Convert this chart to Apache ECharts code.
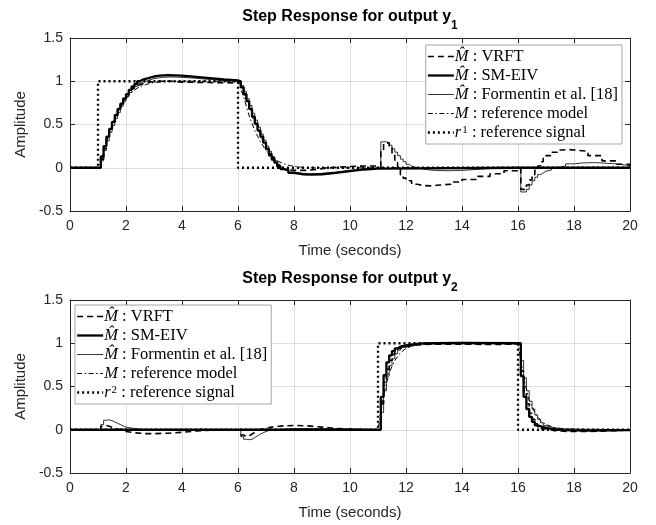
<!DOCTYPE html>
<html><head><meta charset="utf-8">
<script src="https://cdn.jsdelivr.net/npm/echarts@6/dist/echarts.min.js"></script>
<style>html,body{margin:0;padding:0;background:#fff}#c{width:656px;height:525px}</style>
</head><body><div id="c"></div><script>
// ---------- data (time [s], amplitude) ----------
const xTicks = [0, 2, 4, 6, 8, 10, 12, 14, 16, 18, 20];
const yTicks = [-0.5, 0, 0.5, 1, 1.5];
const legendNames1 = ['VRFT', 'SM-EIV', 'Formentin', 'RefModel', 'r1'];
const legendNames2 = ['VRFT', 'SM-EIV', 'Formentin', 'RefModel', 'r2'];

// output y1
const y1_vrft = [[0,0],[1.0,0],[1.1,0.1],[1.2,0.22],[1.3,0.33],[1.4,0.43],[1.5,0.52],[1.6,0.6],[1.7,0.67],[1.8,0.74],[1.9,0.8],[2.0,0.85],[2.1,0.89],[2.2,0.92],[2.3,0.95],[2.4,0.97],[2.6,0.99],[2.8,1.0],[3.2,1.0],[3.6,0.99],[4.0,0.985],[5.0,0.98],[6.0,0.985],
 [6.1,0.93],[6.2,0.85],[6.3,0.76],[6.4,0.67],[6.5,0.58],[6.6,0.5],[6.7,0.42],[6.8,0.34],[6.9,0.27],[7.0,0.2],[7.1,0.14],[7.2,0.09],[7.3,0.05],[7.4,0.01],[7.5,-0.02],[7.7,-0.03],[8.0,-0.03],[8.5,-0.01],[9.0,0.005],[9.5,0.015],[10.0,0.02],[10.5,0.02],[11.0,0.015],
 [11.1,0.2],[11.2,0.28],[11.3,0.29],[11.4,0.24],[11.5,0.15],[11.6,0.06],[11.7,-0.02],[11.8,-0.08],[11.9,-0.12],[12.0,-0.15],[12.2,-0.19],[12.4,-0.205],[12.6,-0.21],[12.9,-0.2],[13.2,-0.19],[13.6,-0.165],[14.0,-0.135],[14.5,-0.1],[15.0,-0.07],[15.5,-0.035],[16.0,-0.01],
 [16.1,-0.25],[16.2,-0.25],[16.3,-0.2],[16.4,-0.14],[16.5,-0.08],[16.6,-0.03],[16.7,0.02],[16.8,0.07],[16.9,0.11],[17.0,0.14],[17.2,0.18],[17.4,0.205],[17.6,0.21],[17.8,0.205],[18.0,0.19],[18.5,0.14],[19.0,0.08],[19.5,0.04],[20.0,0.015]];
const y1_smeiv = [[0,0],[1.0,0],[1.1,0.13],[1.2,0.25],[1.3,0.36],[1.4,0.45],[1.5,0.53],[1.6,0.61],[1.7,0.68],[1.8,0.74],[1.9,0.8],[2.0,0.85],[2.1,0.9],[2.2,0.94],[2.3,0.97],[2.4,1.0],[2.5,1.02],[2.6,1.035],[2.8,1.055],[3.0,1.065],[3.2,1.07],[3.5,1.065],[4.0,1.05],[4.5,1.035],[5.0,1.02],[5.5,1.01],[6.0,1.0],
 [6.1,0.93],[6.2,0.85],[6.3,0.77],[6.4,0.68],[6.5,0.59],[6.6,0.51],[6.7,0.43],[6.8,0.36],[6.9,0.29],[7.0,0.22],[7.1,0.16],[7.2,0.11],[7.3,0.06],[7.4,0.02],[7.5,-0.01],[7.6,-0.03],[7.8,-0.06],[8.0,-0.075],[8.3,-0.08],[8.6,-0.075],[9.0,-0.06],[9.5,-0.04],[10.0,-0.02],[10.5,-0.01],[11.0,0],[16.0,0],[20.0,0]];
const y1_form = [[0,0],[1.0,0],[1.1,0.08],[1.2,0.2],[1.3,0.31],[1.4,0.41],[1.5,0.49],[1.6,0.57],[1.7,0.64],[1.8,0.71],[1.9,0.77],[2.0,0.82],[2.1,0.87],[2.2,0.91],[2.3,0.94],[2.4,0.97],[2.5,0.99],[2.6,1.01],[2.8,1.03],[3.0,1.045],[3.3,1.05],[3.6,1.045],[4.0,1.035],[4.5,1.02],[5.0,1.01],[5.5,1.0],[6.0,1.0],
 [6.1,0.95],[6.2,0.88],[6.3,0.8],[6.4,0.72],[6.5,0.63],[6.6,0.55],[6.7,0.47],[6.8,0.39],[6.9,0.32],[7.0,0.25],[7.1,0.19],[7.2,0.13],[7.3,0.08],[7.4,0.04],[7.5,0.01],[7.6,-0.02],[7.8,-0.05],[8.0,-0.065],[8.3,-0.07],[8.6,-0.065],[9.0,-0.05],[9.5,-0.03],[10.0,-0.015],[10.5,-0.005],[11.0,0],
 [11.1,0.3],[11.2,0.3],[11.3,0.29],[11.4,0.26],[11.5,0.22],[11.6,0.18],[11.7,0.14],[11.8,0.1],[11.9,0.07],[12.0,0.04],[12.1,0.02],[12.2,0.0],[12.4,-0.02],[12.7,-0.03],[13.0,-0.035],[13.5,-0.03],[14.0,-0.02],[14.5,-0.01],[15.0,-0.005],[16.0,0],
 [16.1,-0.28],[16.2,-0.28],[16.3,-0.25],[16.4,-0.2],[16.5,-0.15],[16.6,-0.11],[16.7,-0.08],[16.8,-0.06],[16.9,-0.04],[17.0,-0.025],[17.2,0.0],[17.4,0.02],[17.7,0.045],[18.0,0.055],[18.3,0.06],[18.7,0.055],[19.0,0.045],[19.5,0.025],[20.0,0.01]];
const y1_model = [[0,0],[1.0,0],[1.2,0.18],[1.4,0.4],[1.6,0.57],[1.8,0.7],[2.0,0.8],[2.2,0.87],[2.4,0.92],[2.6,0.95],[2.8,0.97],[3.0,0.985],[3.5,1.0],[6.0,1.0],[6.2,0.82],[6.4,0.6],[6.6,0.43],[6.8,0.3],[7.0,0.2],[7.2,0.13],[7.4,0.08],[7.6,0.05],[7.8,0.03],[8.0,0.015],[8.5,0.0],[20.0,0]];
const y1_ref = [[0,0],[1,0],[1,1],[6,1],[6,0],[20,0]];

// output y2
const y2_vrft = [[0,0],[1.0,0],[1.1,0.04],[1.2,0.05],[1.3,0.04],[1.4,0.03],[1.5,0.015],[1.6,0.0],[1.8,-0.02],[2.0,-0.035],[2.3,-0.045],[2.7,-0.045],[3.0,-0.04],[3.5,-0.03],[4.0,-0.015],[4.5,-0.005],[5.0,0],[6.0,0],
 [6.1,-0.06],[6.2,-0.08],[6.3,-0.07],[6.4,-0.05],[6.5,-0.03],[6.6,-0.01],[6.7,0.01],[6.9,0.03],[7.2,0.045],[7.6,0.05],[8.0,0.045],[8.5,0.03],[9.0,0.015],[9.5,0.005],[10.0,0],[11.0,0],
 [11.1,0.3],[11.2,0.55],[11.3,0.7],[11.4,0.8],[11.5,0.87],[11.6,0.91],[11.7,0.94],[11.8,0.96],[12.0,0.98],[12.4,0.99],[13.0,0.99],[14.0,0.985],[15.0,0.99],[16.0,0.99],
 [16.1,0.68],[16.2,0.45],[16.3,0.3],[16.4,0.19],[16.5,0.12],[16.6,0.07],[16.7,0.035],[16.8,0.01],[17.0,-0.01],[17.3,-0.02],[17.8,-0.02],[18.5,-0.01],[19.5,0],[20.0,0.005]];
const y2_smeiv = [[0,0],[11.0,0],[11.1,0.38],[11.2,0.63],[11.3,0.78],[11.4,0.86],[11.5,0.91],[11.6,0.94],[11.7,0.96],[11.8,0.975],[12.0,0.99],[12.3,0.998],[12.6,1.0],[13.0,1.005],[14.0,1.0],[16.0,1.0],
 [16.1,0.62],[16.2,0.38],[16.3,0.24],[16.4,0.15],[16.5,0.09],[16.6,0.05],[16.7,0.03],[16.9,0.01],[17.2,-0.005],[17.6,-0.01],[18.5,-0.005],[20.0,0]];
const y2_form = [[0,0],[1.0,0],[1.1,0.06],[1.2,0.11],[1.3,0.115],[1.4,0.105],[1.5,0.09],[1.6,0.075],[1.7,0.06],[1.8,0.045],[1.9,0.03],[2.0,0.02],[2.2,0.005],[2.5,-0.005],[3.0,-0.01],[4.0,-0.005],[5.0,0],[6.0,0],
 [6.1,-0.08],[6.2,-0.11],[6.3,-0.115],[6.4,-0.11],[6.5,-0.09],[6.6,-0.07],[6.7,-0.05],[6.8,-0.035],[6.9,-0.02],[7.0,-0.01],[7.1,0.0],[7.4,0.01],[7.8,0.015],[8.5,0.01],[9.5,0.0],[11.0,0],
 [11.1,0.2],[11.2,0.45],[11.3,0.62],[11.4,0.74],[11.5,0.82],[11.6,0.88],[11.7,0.92],[11.8,0.95],[12.0,0.98],[12.3,0.995],[12.6,1.005],[13.0,1.01],[14.0,1.005],[16.0,1.0],
 [16.1,0.8],[16.2,0.6],[16.3,0.45],[16.4,0.33],[16.5,0.24],[16.6,0.17],[16.7,0.12],[16.8,0.08],[16.9,0.05],[17.0,0.03],[17.2,0.01],[17.5,0.0],[20.0,0]];
const y2_model = [[0,0],[11.0,0],[11.2,0.4],[11.4,0.66],[11.6,0.8],[11.8,0.89],[12.0,0.94],[12.3,0.975],[12.7,0.99],[13.5,1.0],[16.0,1.0],[16.2,0.6],[16.4,0.34],[16.6,0.2],[16.8,0.11],[17.0,0.06],[17.3,0.025],[17.7,0.01],[18.5,0],[20.0,0]];
const y2_ref = [[0,0],[11,0],[11,1],[16,1],[16,0],[20,0]];

// ---------- chart ----------
const chart = echarts.init(document.getElementById('c'), null, {renderer: 'canvas'});
const AX = '#262626';
const GRID_L = 70, GRID_R = 26, GRID_H = 173;
const gridTops = [38, 300];

function xAxes(g) {
  return [
    {gridIndex: g, type: 'value', position: 'bottom', min: xTicks[0], max: xTicks[xTicks.length-1], interval: 2,
     axisLine: {show: true, onZero: false, lineStyle: {color: AX, width: 1}},
     axisTick: {show: true, inside: true, length: 5, lineStyle: {color: AX}},
     axisLabel: {color: AX, fontSize: 14, fontFamily: 'Liberation Sans', margin: 8},
     splitLine: {show: true, lineStyle: {color: '#dedede', width: 1}},
     name: 'Time (seconds)', nameLocation: 'middle', nameGap: 32,
     nameTextStyle: {color: AX, fontSize: 15, fontFamily: 'Liberation Sans'}},
    {gridIndex: g, type: 'value', position: 'top', min: xTicks[0], max: xTicks[xTicks.length-1], interval: 2,
     axisLine: {show: true, onZero: false, lineStyle: {color: AX, width: 1}},
     axisTick: {show: true, inside: true, length: 5, lineStyle: {color: AX}},
     axisLabel: {show: false}, splitLine: {show: false}}
  ];
}
function yAxes(g) {
  return [
    {gridIndex: g, type: 'value', position: 'left', min: yTicks[0], max: yTicks[yTicks.length-1], interval: 0.5,
     axisLine: {show: true, onZero: false, lineStyle: {color: AX, width: 1}},
     axisTick: {show: true, inside: true, length: 5, lineStyle: {color: AX}},
     axisLabel: {color: AX, fontSize: 14, fontFamily: 'Liberation Sans', margin: 7},
     splitLine: {show: true, lineStyle: {color: '#dedede', width: 1}},
     name: 'Amplitude', nameLocation: 'middle', nameGap: 42, nameRotate: 90,
     nameTextStyle: {color: AX, fontSize: 15, fontFamily: 'Liberation Sans'}},
    {gridIndex: g, type: 'value', position: 'right', min: yTicks[0], max: yTicks[yTicks.length-1], interval: 0.5,
     axisLine: {show: true, onZero: false, lineStyle: {color: AX, width: 1}},
     axisTick: {show: true, inside: true, length: 5, lineStyle: {color: AX}},
     axisLabel: {show: false}, splitLine: {show: false}}
  ];
}

const styles = {
  'VRFT':      {width: 1.6, type: [6, 4], step: 'end'},
  'SM-EIV':    {width: 2.3, type: 'solid', step: 'end'},
  'Formentin': {width: 0.8, type: 'solid', step: 'end'},
  'RefModel':  {width: 1.0, type: [5, 2.5, 1.5, 2.5], step: false},
  'r1':        {width: 2.3, type: [2, 3], step: false},
  'r2':        {width: 2.3, type: [2, 3], step: false}
};
function mk(name, data, g) {
  const s = styles[name];
  return {
    name: name, type: 'line', xAxisIndex: 2*g, yAxisIndex: 2*g, data: data,
    step: s.step, showSymbol: false, symbol: 'none', animation: false, silent: true,
    lineStyle: {color: '#000', width: s.width, type: s.type, cap: 'butt'},
    itemStyle: {color: '#000'}
  };
}
const series = [
  mk('VRFT', y1_vrft, 0), mk('SM-EIV', y1_smeiv, 0), mk('Formentin', y1_form, 0), mk('RefModel', y1_model, 0), mk('r1', y1_ref, 0),
  mk('VRFT', y2_vrft, 1), mk('SM-EIV', y2_smeiv, 1), mk('Formentin', y2_form, 1), mk('RefModel', y2_model, 1), mk('r2', y2_ref, 1)
];

const legendText = {
  'VRFT': '{m|M\u0302}{t| : VRFT}',
  'SM-EIV': '{m|M\u0302}{t| : SM-EIV}',
  'Formentin': '{m|M\u0302}{t| : Formentin et al. [18]}',
  'RefModel': '{m|M}{t| : reference model}',
  'r1': '{m|r}{u|1}{t| : reference signal}',
  'r2': '{m|r}{u|2}{t| : reference signal}'
};
const legendRich = {
  m: {fontFamily: 'Liberation Serif', fontStyle: 'italic', fontSize: 16.5, lineHeight: 15, color: '#000'},
  t: {fontFamily: 'Liberation Serif', fontSize: 16.5, lineHeight: 15, color: '#000'},
  u: {fontFamily: 'Liberation Serif', fontSize: 11, lineHeight: 9, color: '#000', verticalAlign: 'top', padding: [0, 0, 0, 1]}
};
function mkLegend(names, pos) {
  return Object.assign({
    data: names.map(n => ({name: n, lineStyle: {color: '#000', width: styles[n].width, type: styles[n].type, cap: 'butt'}})),
    orient: 'vertical', selectedMode: false,
    itemWidth: 26, itemHeight: 14, itemGap: 2,
    padding: [3, 4, 3, 1],
    backgroundColor: '#fff', borderColor: '#a6a6a6', borderWidth: 1, borderRadius: 0,
    itemStyle: {opacity: 0, color: 'rgba(0,0,0,0)', borderWidth: 0},
    textStyle: {rich: legendRich, lineHeight: 15, fontSize: 16.5, padding: [0,0,0,-4]},
    formatter: (n) => legendText[n]
  }, pos);
}

const titleRich = {
  a: {fontFamily: 'Liberation Sans', fontWeight: 'bold', fontSize: 16, color: '#000', lineHeight: 20, verticalAlign: 'top'},
  s: {fontFamily: 'Liberation Sans', fontWeight: 'bold', fontSize: 12, color: '#000', lineHeight: 14, verticalAlign: 'top', padding: [11, 0, 0, 0]}
};
const cx = GRID_L + (656 - GRID_L - GRID_R) / 2;

chart.setOption({
  animation: false,
  backgroundColor: '#fff',
  grid: gridTops.map(t => ({left: GRID_L, right: GRID_R, top: t, height: GRID_H, containLabel: false})),
  xAxis: [...xAxes(0), ...xAxes(1)],
  yAxis: [...yAxes(0), ...yAxes(1)],
  legend: [
    mkLegend(legendNames1, {right: 656 - 622, top: 45}),
    mkLegend(legendNames2, {left: 75, top: 305})
  ],
  graphic: [
    {type: 'text', x: cx, y: 9, style: {text: '{a|Step Response for output y}{s|1}', rich: titleRich, align: 'center', verticalAlign: 'top'}},
    {type: 'text', x: cx, y: 271, style: {text: '{a|Step Response for output y}{s|2}', rich: titleRich, align: 'center', verticalAlign: 'top'}}
  ],
  series: series
});
</script></body></html>
